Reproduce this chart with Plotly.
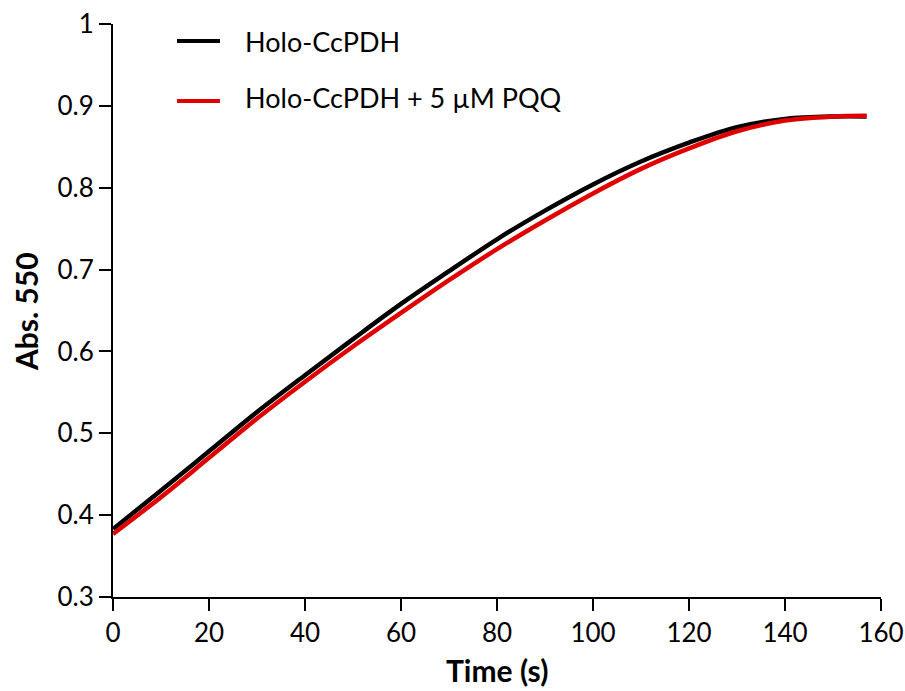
import plotly.graph_objects as go

time_s = [0, 10, 20, 30, 40, 50, 60, 70, 80, 90, 100, 110, 120, 130, 140, 150, 157]
holo = [0.383, 0.430, 0.478, 0.526, 0.571, 0.615, 0.658, 0.698, 0.737, 0.772,
        0.804, 0.832, 0.855, 0.874, 0.884, 0.887, 0.887]
holo_pqq = [0.377, 0.422, 0.470, 0.518, 0.563, 0.606, 0.647, 0.687, 0.725, 0.760,
            0.793, 0.823, 0.848, 0.869, 0.882, 0.887, 0.888]
series_names = ["Holo-CcPDH", "Holo-CcPDH + 5 µM PQQ"]
series_colors = ["black", "#e00000"]
x_ticks = [0, 20, 40, 60, 80, 100, 120, 140, 160]
y_ticks = [0.3, 0.4, 0.5, 0.6, 0.7, 0.8, 0.9, 1.0]
y_ticktext = ["0.3", "0.4", "0.5", "0.6", "0.7", "0.8", "0.9", "1"]
x_title = "Time (s)"
y_title = "Abs. 550"

FONT = "Lato"

fig = go.Figure()
for ys, name, col in zip([holo, holo_pqq], series_names, series_colors):
    fig.add_trace(go.Scatter(x=time_s, y=ys, mode="lines", name=name,
                             line=dict(color=col, width=4.5, shape="spline"),
                             showlegend=False))

# manual legend (line samples + labels), positioned in paper coordinates
leg_line_y = [0.9703, 0.8656]
leg_text_y = [0.9686, 0.8726]
for name, col, ly, ty in zip(series_names, series_colors, leg_line_y, leg_text_y):
    fig.add_shape(type="line", xref="paper", yref="paper", x0=0.0833, x1=0.1393,
                  y0=ly, y1=ly, line=dict(color=col, width=4))
    fig.add_annotation(xref="paper", yref="paper", x=0.1690, y=ty, text=name,
                       showarrow=False, xanchor="left", yanchor="middle",
                       font=dict(family=FONT, size=27, color="black"))

# axis titles as annotations for exact placement
fig.add_annotation(xref="paper", yref="paper", x=0.5, y=-0.1274,
                   text=f"<b>{x_title}</b>", showarrow=False,
                   xanchor="center", yanchor="middle",
                   font=dict(family=FONT, size=30, color="black"))
fig.add_annotation(xref="paper", yref="paper", x=-0.1133, y=0.499,
                   text=f"<b>{y_title}</b>", showarrow=False, textangle=-90,
                   xanchor="center", yanchor="middle",
                   font=dict(family=FONT, size=30, color="black"))

axis_common = dict(showline=True, linecolor="black", linewidth=2, ticks="outside",
                   ticklen=12, tickwidth=1.5, tickcolor="black", showgrid=False,
                   zeroline=False, automargin=False,
                   tickfont=dict(family=FONT, size=26, color="black"))

fig.update_layout(
    width=905, height=691,
    margin=dict(l=113, r=24, t=24, b=94),
    plot_bgcolor="white", paper_bgcolor="white",
    xaxis=dict(range=[0, 160], tickvals=x_ticks, **axis_common),
    yaxis=dict(range=[0.3, 1.0], tickvals=y_ticks, ticktext=y_ticktext, **axis_common),
    showlegend=False,
)

# remove the browser's default page margin so the figure fills the window exactly
fig.write_html("out.html", config={"displayModeBar": False},
               post_script="document.body.style.margin='0';document.body.style.overflow='hidden';")
